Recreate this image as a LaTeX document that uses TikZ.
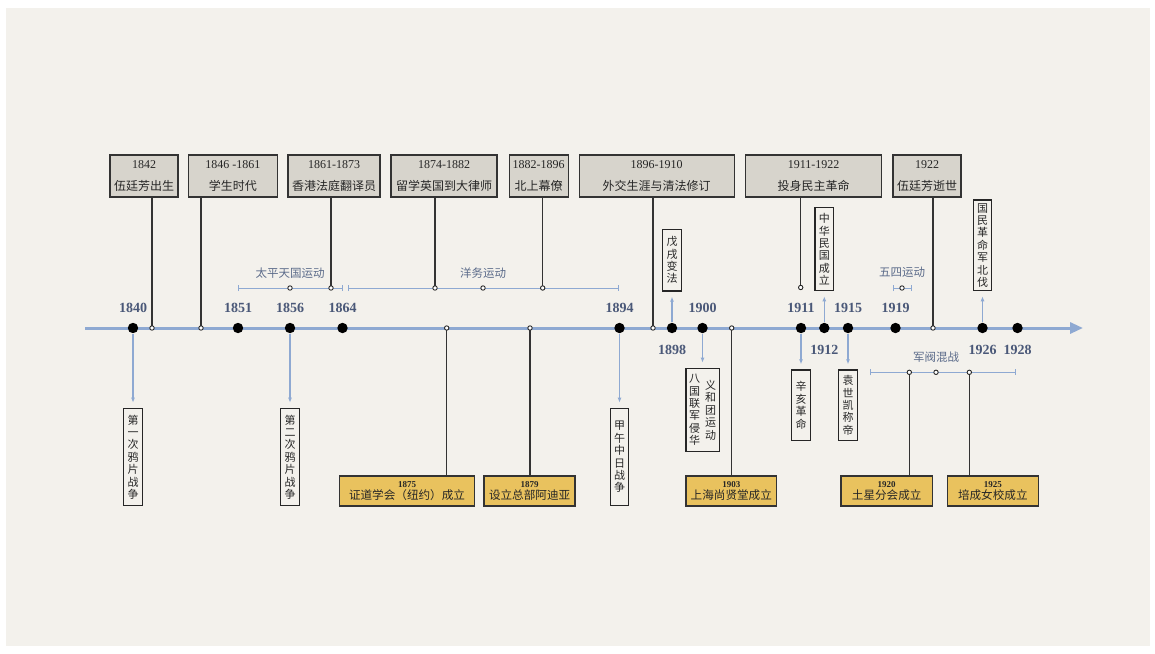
\documentclass[tikz,border=0pt]{standalone}
\usepackage{fontspec}
\setmainfont{Liberation Serif}
\newfontfamily\cjk{Noto Sans CJK SC}
\usetikzlibrary{arrows.meta}
\definecolor{paper}{HTML}{F3F1EC}
\definecolor{boxgray}{HTML}{D7D4CC}
\definecolor{boxyellow}{HTML}{E9C25E}
\definecolor{axisblue}{HTML}{8EA9D2}
\definecolor{yeartext}{HTML}{4A5878}
\definecolor{spantext}{HTML}{5B6B8A}
\newcommand{\vcol}[1]{\parbox[c]{11pt}{\centering #1}}

\begin{document}
\begin{tikzpicture}[x=1pt, y=-1pt,
    topbox/.style={draw=black!80, line width=1.4pt, fill=boxgray, inner sep=0pt,
        minimum height=42pt, align=center, text=black!85, font=\fontsize{12}{22}\selectfont},
    evbox/.style={draw=black!80, line width=1.4pt, fill=boxyellow, inner sep=0pt,
        minimum height=30pt, align=center, text=black!85, font=\fontsize{11.6}{12}\selectfont},
    vbox/.style={draw=black!85, line width=1.3pt, inner sep=0pt, minimum width=18.5pt,
        text=black!85, font=\cjk\fontsize{11}{12.4}\selectfont},
    stem/.style={draw=black!80, line width=1.4pt},
    pointer/.style={draw=axisblue, line width=1.2pt, -{Latex[length=5pt,width=4pt]}, shorten >=5pt, shorten <=6pt},
    span/.style={draw=axisblue, line width=0.9pt, {Bar[width=6pt]}-{Bar[width=6pt]}},
    yearlab/.style={text=yeartext, font=\bfseries\fontsize{14}{14}\selectfont, inner sep=1pt},
    spanlab/.style={text=spantext, font=\cjk\fontsize{11.5}{12}\selectfont, inner sep=1pt}]
    % paper
    \fill[white] (0,0) rectangle (1155,653);
    \fill[paper] (6,8) rectangle (1150,646);
    \useasboundingbox (0,0) rectangle (1155,653);
    % years on the axis
    \foreach \yr/\x in {1840/133, 1851/238, 1856/290, 1864/342.5, 1894/619.5, 1898/672,
        1900/702.5, 1911/801, 1912/824.3, 1915/848, 1919/895.5, 1926/982.5, 1928/1017.5}
        {\coordinate (y\yr) at (\x,328);}
    % joints
    \coordinate (ja) at (152,328);
    \coordinate (jb) at (201,328);
    \coordinate (jc) at (653,328);
    \coordinate (jd) at (933,328);
    \coordinate (j1875) at (446.7,328);
    \coordinate (j1879) at (530,328);
    \coordinate (j1903) at (731.7,328);
    \coordinate (j1861) at (331,288);
    \coordinate (j1874) at (435,288);
    \coordinate (j1882) at (542.7,288);
    \coordinate (j1911) at (800.7,287.5);
    \coordinate (m1) at (290,288);
    \coordinate (m2) at (483,288);
    \coordinate (m3) at (902,288);
    \coordinate (j1920) at (909.3,372.3);
    \coordinate (m4) at (936,372.3);
    \coordinate (j1925) at (969.3,372.3);

    % life periods
    \node[topbox, minimum width=68pt] (b1842) at (144,176) {1842\\{\cjk 伍廷芳出生}};
    \node[topbox, minimum width=89pt] (b1846) at (232.8,176) {1846 -1861\\{\cjk 学生时代}};
    \node[topbox, minimum width=92pt] (b1861) at (334,176) {1861-1873\\{\cjk 香港法庭翻译员}};
    \node[topbox, minimum width=106pt] (b1874) at (444,176) {1874-1882\\{\cjk 留学英国到大律师}};
    \node[topbox, minimum width=59pt] (b1882) at (538.7,176) {1882-1896\\{\cjk 北上幕僚}};
    \node[topbox, minimum width=155pt] (b1896) at (656.7,176) {1896-1910\\{\cjk 外交生涯与清法修订}};
    \node[topbox, minimum width=136pt] (b1911) at (813.7,176) {1911-1922\\{\cjk 投身民主革命}};
    \node[topbox, minimum width=68pt] (b1922) at (927,176) {1922\\{\cjk 伍廷芳逝世}};

    % events
    \node[vbox, minimum height=97.4pt] (v1840) at (133,457) {\vcol{第\\一\\次\\鸦\\片\\战\\争}};
    \node[vbox, minimum height=97.4pt] (v1856) at (290,457) {\vcol{第\\二\\次\\鸦\\片\\战\\争}};
    \node[vbox, minimum height=97.4pt] (v1894) at (619.5,457) {\vcol{甲\\午\\中\\日\\战\\争}};
    \node[vbox, minimum height=61.7pt] (v1898) at (672,260.2) {\vcol{戊\\戌\\变\\法}};
    \node[vbox, minimum height=83.4pt, minimum width=33.3pt] (v1900) at (702.5,410)
        {\vcol{八\\国\\联\\军\\侵\\华}\hspace{5pt}\vcol{义\\和\\团\\运\\动}};
    \node[vbox, minimum height=70.7pt] (v1911) at (801,405.3) {\vcol{辛\\亥\\革\\命}};
    \node[vbox, minimum height=83pt] (v1912) at (824.3,249.2) {\vcol{中\\华\\民\\国\\成\\立}};
    \node[vbox, minimum height=70.7pt] (v1915) at (848,405.3) {\vcol{袁\\世\\凯\\称\\帝}};
    \node[vbox, minimum height=90.7pt] (v1926) at (982.5,245.3) {\vcol{国\\民\\革\\命\\军\\北\\伐}};

    % theosophy
    \node[evbox, minimum width=135.4pt] (e1875) at (407,490.9) {{\bfseries\fontsize{9}{9}\selectfont 1875}\\{\cjk 证道学会（纽约）成立}};
    \node[evbox, minimum width=91pt] (e1879) at (529.6,490.9) {{\bfseries\fontsize{9}{9}\selectfont 1879}\\{\cjk 设立总部阿迪亚}};
    \node[evbox, minimum width=90.7pt] (e1903) at (731.3,490.9) {{\bfseries\fontsize{9}{9}\selectfont 1903}\\{\cjk 上海尚贤堂成立}};
    \node[evbox, minimum width=91.3pt] (e1920) at (886.7,490.9) {{\bfseries\fontsize{9}{9}\selectfont 1920}\\{\cjk 土星分会成立}};
    \node[evbox, minimum width=91pt] (e1925) at (992.8,490.9) {{\bfseries\fontsize{9}{9}\selectfont 1925}\\{\cjk 培成女校成立}};

    % stems
    \draw[stem] (ja |- b1842.south) -- (ja);
    \draw[stem] (jb |- b1846.south) -- (jb);
    \draw[stem] (j1861 |- b1861.south) -- (j1861);
    \draw[stem] (j1874 |- b1874.south) -- (j1874);
    \draw[stem] (j1882 |- b1882.south) -- (j1882);
    \draw[stem] (jc |- b1896.south) -- (jc);
    \draw[stem] (j1911 |- b1911.south) -- (j1911);
    \draw[stem] (jd |- b1922.south) -- (jd);
    \draw[stem] (j1875) -- (j1875 |- e1875.north);
    \draw[stem] (j1879) -- (j1879 |- e1879.north);
    \draw[stem] (j1903) -- (j1903 |- e1903.north);
    \draw[stem] (j1920) -- (j1920 |- e1920.north);
    \draw[stem] (j1925) -- (j1925 |- e1925.north);

    % pointers
    \foreach \yr in {1840,1856,1894,1898,1900,1911,1912,1915,1926}
        {\draw[pointer] (y\yr) -- (v\yr);}

    % axis
    \draw[axisblue, line width=3pt, -{Triangle[length=13pt,width=11pt]}] (85,328) -- (1083,328);

    % movements
    \draw[span] (237.7,288) -- (343.3,288);
    \draw[span] (348.3,288) -- (619.3,288);
    \draw[span] (893.3,288) -- (911.7,288);
    \draw[span] (870,372.3) -- (1016,372.3);
    \node[spanlab] (s1) at (290,272.7) {太平天国运动};
    \node[spanlab] (s2) at (483,272.7) {洋务运动};
    \node[spanlab] (s3) at (902,272.7) {五四运动};
    \node[spanlab] (s4) at (936,356.7) {军阀混战};

    \foreach \p in {ja,jb,jc,jd,j1875,j1879,j1903,j1861,j1874,j1882,j1911,m1,m2,m3,j1920,m4,j1925}
        {\filldraw[draw=black!85, fill=white, line width=0.9pt] (\p) circle (2.2pt);}
    \foreach \p in {1840,1851,1856,1864,1894,1898,1900,1911,1912,1915,1919,1926,1928}
        {\fill (y\p) circle (5.2pt);}
    \foreach \yr in {1840,1851,1856,1864,1894,1900,1911,1915,1919}
        {\node[yearlab] (t\yr) at ([yshift=20pt]y\yr) {\yr};}
    \foreach \yr in {1898,1912,1926,1928}
        {\node[yearlab] (t\yr) at ([yshift=-22pt]y\yr) {\yr};}
\end{tikzpicture}
\end{document}
